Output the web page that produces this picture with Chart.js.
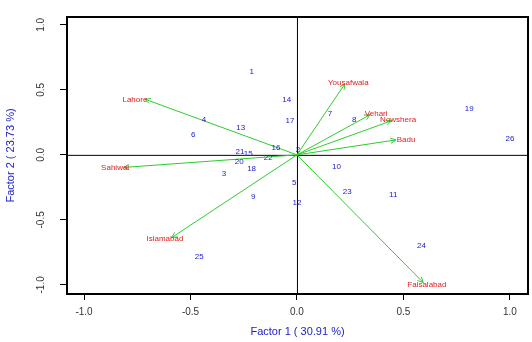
<!DOCTYPE html>
<html>
<head>
<meta charset="utf-8">
<script src="https://cdn.jsdelivr.net/npm/chart.js@4/dist/chart.umd.min.js"></script>
<style>
  html, body { margin: 0; padding: 0; background: #fff; }
  #wrap { width: 532px; height: 342px; }
</style>
</head>
<body>
<div id="wrap"><canvas id="c"></canvas></div>
<script>
// observation scores (factor 1, factor 2)
const obsLabels = ['1', '2', '3', '4', '5', '6', '7', '8', '9', '10', '11', '12', '13',
  '14', '15', '16', '17', '18', '19', '20', '21', '22', '23', '24', '25', '26']
const obsX = [-0.213, 0.005, -0.343, -0.437, -0.013, -0.487, 0.155, 0.269, -0.205, 0.186,
  0.452, 0.0, -0.264, -0.048, -0.229, -0.099, -0.033, -0.213, 0.809, -0.271, -0.268,
  -0.135, 0.236, 0.585, -0.459, 1.0]
const obsY = [0.64, 0.04, -0.149, 0.27, -0.218, 0.151, 0.313, 0.269, -0.326, -0.095,
  -0.308, -0.37, 0.205, 0.423, 0.005, 0.051, 0.26, -0.108, 0.356, -0.051, 0.026,
  -0.025, -0.282, -0.7, -0.787, 0.123]

// variable loadings (arrow tips) and where their names sit
const varNames = ['Lahore', 'Yousafwala', 'Vehari', 'Nowshera', 'Badu', 'Sahiwal', 'Islamabad', 'Faisalabad']
const varX = [-0.714, 0.225, 0.343, 0.444, 0.465, -0.815, -0.588, 0.593]
const varY = [0.428, 0.546, 0.308, 0.262, 0.115, -0.097, -0.636, -0.982]
const labelX = [-0.761, 0.241, 0.372, 0.475, 0.512, -0.854, -0.62, 0.61]
const labelY = [0.423, 0.552, 0.318, 0.267, 0.118, -0.102, -0.648, -1.002]

const xTicks = [-1.0, -0.5, 0.0, 0.5, 1.0]
const yTicks = [-1.0, -0.5, 0.0, 0.5, 1.0]

const green = '#2ecc2e'
const blue = '#2020c8'
const red = '#e02020'
const font = 'Liberation Sans, Arial, sans-serif'

const arrowSets = varNames.map((name, i) => ({
  label: name,
  type: 'line',
  data: [{ x: 0, y: 0 }, { x: varX[i], y: varY[i] }],
  borderColor: green,
  borderWidth: 1,
  pointRadius: 0,
  fill: false,
}))

const frame = {
  id: 'frame',
  beforeDatasetsDraw(chart) {
    const { ctx, chartArea: a, scales } = chart
    const x0 = scales.x.getPixelForValue(0)
    const y0 = scales.y.getPixelForValue(0)
    ctx.save()
    ctx.strokeStyle = '#000'
    ctx.lineWidth = 1
    ctx.beginPath()
    ctx.moveTo(a.left, y0 + 0.5)
    ctx.lineTo(a.right, y0 + 0.5)
    ctx.moveTo(x0 + 0.5, a.top)
    ctx.lineTo(x0 + 0.5, a.bottom)
    ctx.stroke()
    ctx.lineWidth = 2
    ctx.strokeRect(a.left, a.top, a.right - a.left, a.bottom - a.top)

    // rotated y tick labels
    ctx.fillStyle = '#333'
    ctx.font = '10px ' + font
    ctx.textAlign = 'center'
    ctx.textBaseline = 'middle'
    for (const t of scales.y.ticks) {
      const py = scales.y.getPixelForValue(t.value)
      ctx.save()
      ctx.translate(41, py)
      ctx.rotate(-Math.PI / 2)
      ctx.fillText(t.value.toFixed(1), 0, 0)
      ctx.restore()
    }
    ctx.restore()
  },
  afterDatasetsDraw(chart) {
    const { ctx, scales } = chart
    ctx.save()
    // arrow heads
    ctx.strokeStyle = green
    ctx.lineWidth = 1
    for (let i = 0; i < varNames.length; i++) {
      const tx = scales.x.getPixelForValue(varX[i])
      const ty = scales.y.getPixelForValue(varY[i])
      const ang = Math.atan2(ty - scales.y.getPixelForValue(0), tx - scales.x.getPixelForValue(0))
      ctx.beginPath()
      for (const s of [-1, 1]) {
        ctx.moveTo(tx, ty)
        ctx.lineTo(tx - 6 * Math.cos(ang + s * 0.45), ty - 6 * Math.sin(ang + s * 0.45))
      }
      ctx.stroke()
    }
    ctx.textAlign = 'center'
    ctx.textBaseline = 'middle'
    ctx.font = '8px ' + font
    ctx.fillStyle = red
    varNames.forEach((name, i) => {
      ctx.fillText(name, scales.x.getPixelForValue(labelX[i]), scales.y.getPixelForValue(labelY[i]))
    })
    ctx.fillStyle = blue
    obsLabels.forEach((lab, i) => {
      ctx.fillText(lab, scales.x.getPixelForValue(obsX[i]), scales.y.getPixelForValue(obsY[i]))
    })
    ctx.restore()
  },
}

new Chart(document.getElementById('c'), {
  type: 'scatter',
  data: {
    datasets: [
      {
        label: 'obs',
        data: obsX.map((x, i) => ({ x, y: obsY[i] })),
        pointRadius: 0,
      },
      ...arrowSets,
    ],
  },
  options: {
    responsive: true,
    maintainAspectRatio: false,
    animation: false,
    layout: { padding: { left: 0, right: 4, top: 17, bottom: 0 } },
    plugins: { legend: { display: false }, tooltip: { enabled: false } },
    scales: {
      x: {
        type: 'linear',
        min: -1.08,
        max: 1.085,
        afterBuildTicks: (s) => { s.ticks = xTicks.map((v) => ({ value: v })) },
        afterFit: (s) => { s.height = 48 },
        border: { display: false },
        grid: { drawOnChartArea: false, drawTicks: true, tickLength: 6, tickColor: '#000' },
        ticks: {
          color: '#333',
          font: { family: font, size: 10 },
          padding: 6,
          maxRotation: 0,
          callback: (v) => Number(v).toFixed(1),
        },
        title: {
          display: true,
          text: 'Factor 1 ( 30.91 %)',
          color: blue,
          font: { family: font, size: 11 },
          padding: { top: 0, bottom: 3 },
        },
      },
      y: {
        type: 'linear',
        min: -1.07,
        max: 1.06,
        afterBuildTicks: (s) => { s.ticks = yTicks.map((v) => ({ value: v })) },
        afterFit: (s) => { s.width = 67 },
        border: { display: false },
        grid: { drawOnChartArea: false, drawTicks: true, tickLength: 7, tickColor: '#000' },
        ticks: { display: false },
        title: {
          display: true,
          text: 'Factor 2 ( 23.73 %)',
          color: blue,
          font: { family: font, size: 11 },
          padding: { top: 4, bottom: 0 },
        },
      },
    },
  },
  plugins: [frame],
})
</script>
</body>
</html>
